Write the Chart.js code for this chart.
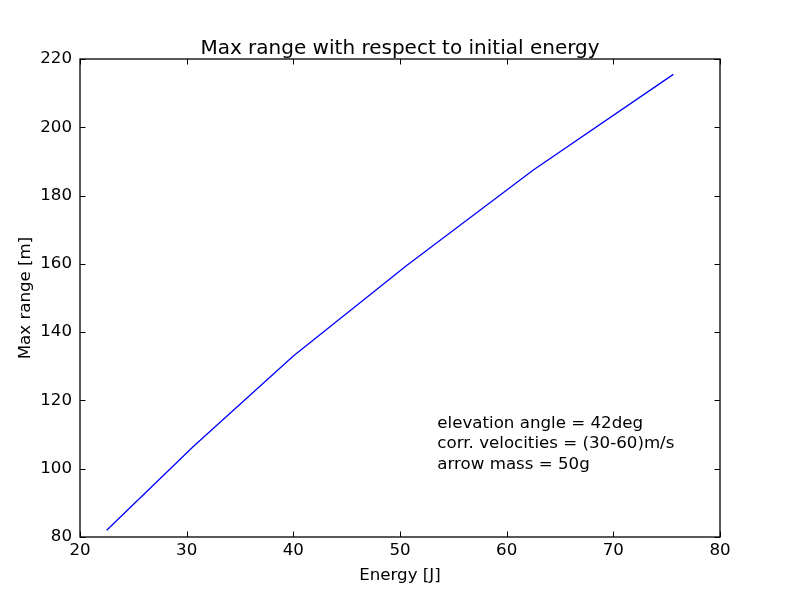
<!DOCTYPE html>
<html>
<head>
<meta charset="utf-8">
<script src="https://cdn.jsdelivr.net/npm/chart.js@4"></script>
<style>
html,body{margin:0;padding:0;background:#fff;}
#wrap{width:800px;height:597px;}
</style>
</head>
<body>
<div id="wrap"><canvas id="c" width="800" height="597"></canvas></div>
<script>
const energy = [22.5, 30.625, 40, 50.625, 62.5, 75.625];
const maxRange = [82, 106.5, 133, 159.5, 187.5, 215.5];
const xTicks = [20, 30, 40, 50, 60, 70, 80];
const yTicks = [80, 100, 120, 140, 160, 180, 200, 220];
const titleText = 'Max range with respect to initial energy';
const xLabel = 'Energy [J]';
const yLabel = 'Max range [m]';
const noteLines = ['elevation angle = 42deg', 'corr. velocities = (30-60)m/s', 'arrow mass = 50g'];
const noteAt = {x: 53.5, y: 100};

const FONT = 'DejaVu Sans';
const FS = 16.67;

const framePlugin = {
  id: 'frame',
  afterDraw(chart) {
    const ctx = chart.ctx;
    const a = chart.chartArea;
    const xs = chart.scales.x, ys = chart.scales.y;
    ctx.save();
    ctx.strokeStyle = '#000';
    ctx.lineWidth = 1;
    const T = 5.5;
    ctx.beginPath();
    xTicks.forEach(v => {
      const p = Math.round(xs.getPixelForValue(v)) + 0.5;
      ctx.moveTo(p, a.bottom); ctx.lineTo(p, a.bottom - T);
      ctx.moveTo(p, a.top); ctx.lineTo(p, a.top + T);
    });
    yTicks.forEach(v => {
      const p = Math.round(ys.getPixelForValue(v)) + 0.5;
      ctx.moveTo(a.left, p); ctx.lineTo(a.left + T, p);
      ctx.moveTo(a.right, p); ctx.lineTo(a.right - T, p);
    });
    ctx.stroke();
    ctx.lineWidth = 1.3;
    ctx.strokeRect(a.left, a.top, a.right - a.left, a.bottom - a.top);
    ctx.fillStyle = '#000';
    // title centred over the plot area
    ctx.font = '20px "' + FONT + '"';
    ctx.textAlign = 'center';
    ctx.textBaseline = 'alphabetic';
    ctx.fillText(titleText, (a.left + a.right) / 2, a.top - 5.5);
    // annotation text
    ctx.font = FS + 'px "' + FONT + '"';
    ctx.textAlign = 'left';
    ctx.textBaseline = 'middle';
    const tx = xs.getPixelForValue(noteAt.x);
    const ty = ys.getPixelForValue(noteAt.y);
    const offs = [-45.5, -24.8, -4];
    noteLines.forEach((s, i) => ctx.fillText(s, tx, ty + offs[i]));
    ctx.restore();
  }
};

new Chart(document.getElementById('c'), {
  type: 'line',
  data: {
    datasets: [{
      data: energy.map((e, i) => ({x: e, y: maxRange[i]})),
      borderColor: '#0000ff',
      borderWidth: 1.3,
      pointRadius: 0,
      tension: 0,
      fill: false
    }]
  },
  options: {
    responsive: false,
    animation: false,
    devicePixelRatio: 1,
    layout: {padding: {top: 59, right: 80, bottom: 0, left: 0}},
    plugins: {
      legend: {display: false},
      tooltip: {enabled: false},
      title: {display: false}
    },
    scales: {
      x: {
        type: 'linear',
        min: 20, max: 80,
        afterBuildTicks(s) { s.ticks = xTicks.map(v => ({value: v})); },
        afterFit(s) { s.height = 60; },
        grid: {display: false, drawTicks: false},
        border: {display: false},
        ticks: {color: '#000', font: {family: FONT, size: FS}, padding: 4, maxRotation: 0},
        title: {display: true, text: xLabel, color: '#000', font: {family: FONT, size: FS}, padding: 11}
      },
      y: {
        type: 'linear',
        min: 80, max: 220,
        afterBuildTicks(s) { s.ticks = yTicks.map(v => ({value: v})); },
        afterFit(s) { s.width = 80; },
        grid: {display: false, drawTicks: false},
        border: {display: false},
        ticks: {color: '#000', font: {family: FONT, size: FS}, padding: 8},
        title: {display: true, text: yLabel, color: '#000', font: {family: FONT, size: FS}, padding: 16}
      }
    }
  },
  plugins: [framePlugin]
});
</script>
</body>
</html>
